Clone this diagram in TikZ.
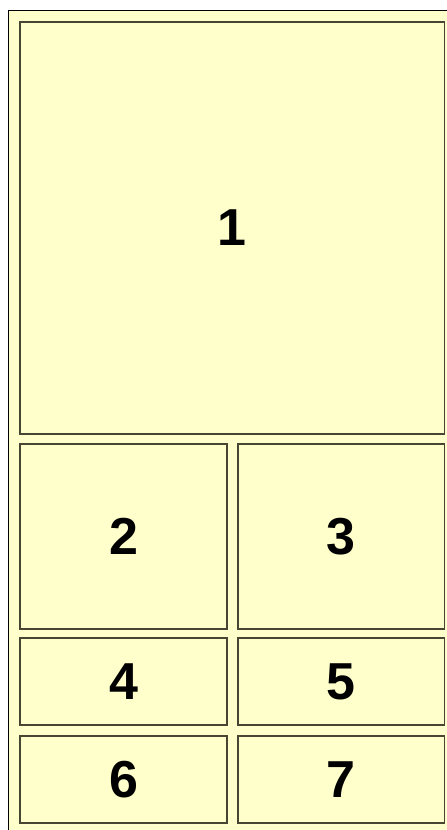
\documentclass[tikz,border=0pt]{standalone}
\usepackage{fontspec}
\setmainfont{Liberation Sans}
\definecolor{paneFill}{HTML}{FFFFCC}
\definecolor{paneEdge}{RGB}{70,70,50}
\begin{document}
\begin{tikzpicture}[x=1pt,y=-1pt,
  pane/.style={draw=paneEdge,fill=paneFill,line width=1.4pt},
  num/.style={font=\bfseries\fontsize{52}{60}\selectfont,text=black,inner sep=0pt}]
\useasboundingbox (0,0) rectangle (447,830);
\fill[white] (0,0) rectangle (447,830);
\filldraw[fill=paneFill,draw=black,line width=0.9pt] (8.5,10.5) rectangle (460,845);
\path[pane] (20,22) rectangle (444.5,434) node[midway,num] (n1) {1};
\path[pane] (20,444) rectangle (227,629) node[midway,num] (n2) {2};
\path[pane] (238,444) rectangle (444.5,629) node[midway,num] (n3) {3};
\path[pane] (20,638) rectangle (227,725) node[midway,num] (n4) {4};
\path[pane] (238,638) rectangle (444.5,725) node[midway,num] (n5) {5};
\path[pane] (20,736) rectangle (227,823) node[midway,num] (n6) {6};
\path[pane] (238,736) rectangle (444.5,823) node[midway,num] (n7) {7};
\end{tikzpicture}
\end{document}
